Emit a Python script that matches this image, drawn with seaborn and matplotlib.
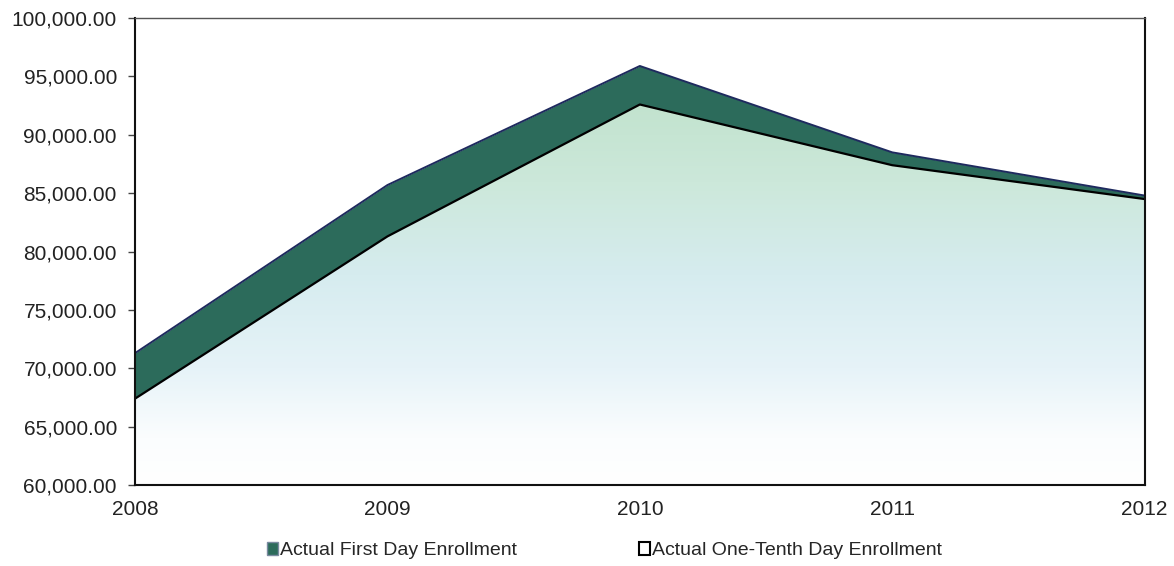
import numpy as np
import pandas as pd
import seaborn as sns
import matplotlib.pyplot as plt
from matplotlib.colors import LinearSegmentedColormap
from matplotlib.patches import Patch

# values
years = [2008, 2009, 2010, 2011, 2012]
first_day = [71300, 85700, 95900, 88500, 84800]
one_tenth = [67400, 81300, 92600, 87400, 84500]
labels = ["Actual First Day Enrollment", "Actual One-Tenth Day Enrollment"]

df = pd.DataFrame({"Year": years, "First": first_day, "Tenth": one_tenth})

sns.set_theme(style="white")
plt.rcParams['font.family'] = ['Liberation Sans', 'DejaVu Sans']

fig = plt.figure(figsize=(11.74, 5.66), dpi=100)
ax = fig.add_axes([0.115, 0.143, 0.86, 0.825])

ymin, ymax = 60000, 100000
dark = "#2c6b5b"

# dark band = first day area, drawn down to the axis floor
ax.fill_between(df.Year, ymin, df.First, color=dark, lw=0, zorder=1)
# lower area with a vertical gradient fill
low = ax.fill_between(df.Year, ymin, df.Tenth, color="none", lw=0, zorder=2)
cmap = LinearSegmentedColormap.from_list(
    "grad", [(0.0, "#ffffff"), (0.1, "#fbfdfe"), (0.25, "#e6f3f8"),
             (0.45, "#d6ecef"), (0.65, "#cce8da"), (0.85, "#c0e2cc"), (1.0, "#b8dec5")])
grad = np.linspace(0, 1, 256).reshape(-1, 1)
img = ax.imshow(grad, cmap=cmap, origin="lower", aspect="auto",
                extent=[years[0], years[-1], ymin, ymax], zorder=2)
img.set_clip_path(low.get_paths()[0], transform=ax.transData)

sns.lineplot(data=df, x="Year", y="First", ax=ax, color="#1e2a5e", lw=1.4, zorder=4)
sns.lineplot(data=df, x="Year", y="Tenth", ax=ax, color="black", lw=1.6, zorder=4)

ax.set_xlim(years[0], years[-1])
ax.set_ylim(ymin, ymax)
ax.set_xticks(years)
ax.set_xticklabels([str(y) for y in years])
ax.set_yticks(np.arange(ymin, ymax + 1, 5000))
ax.set_yticklabels(["{:,.2f}".format(v) for v in np.arange(ymin, ymax + 1, 5000)])
ax.set_xlabel("")
ax.set_ylabel("")
ax.tick_params(axis="y", length=5, width=1, color="#444444", labelsize=15, pad=8, left=True)
ax.tick_params(axis="x", length=0, labelsize=15, pad=11)
for t in ax.get_xticklabels() + ax.get_yticklabels():
    t.set_color("#222222")

for s in ["left", "bottom", "right"]:
    ax.spines[s].set_color("#111111")
    ax.spines[s].set_linewidth(1.5)
ax.spines["top"].set_color("#555555")
ax.spines["top"].set_linewidth(1.0)
for s in ax.spines.values():
    s.set_zorder(5)

handles = [Patch(facecolor=dark, edgecolor="#7a8aa0", lw=1),
           Patch(facecolor="white", edgecolor="black", lw=1.5)]
fig.legend(handles, labels, loc="center", bbox_to_anchor=(0.515, 0.027), ncol=2,
           frameon=False, fontsize=14, handlelength=0.55, handleheight=0.6,
           handletextpad=0.1, columnspacing=6.3)

plt.savefig("out.png", dpi=100)
